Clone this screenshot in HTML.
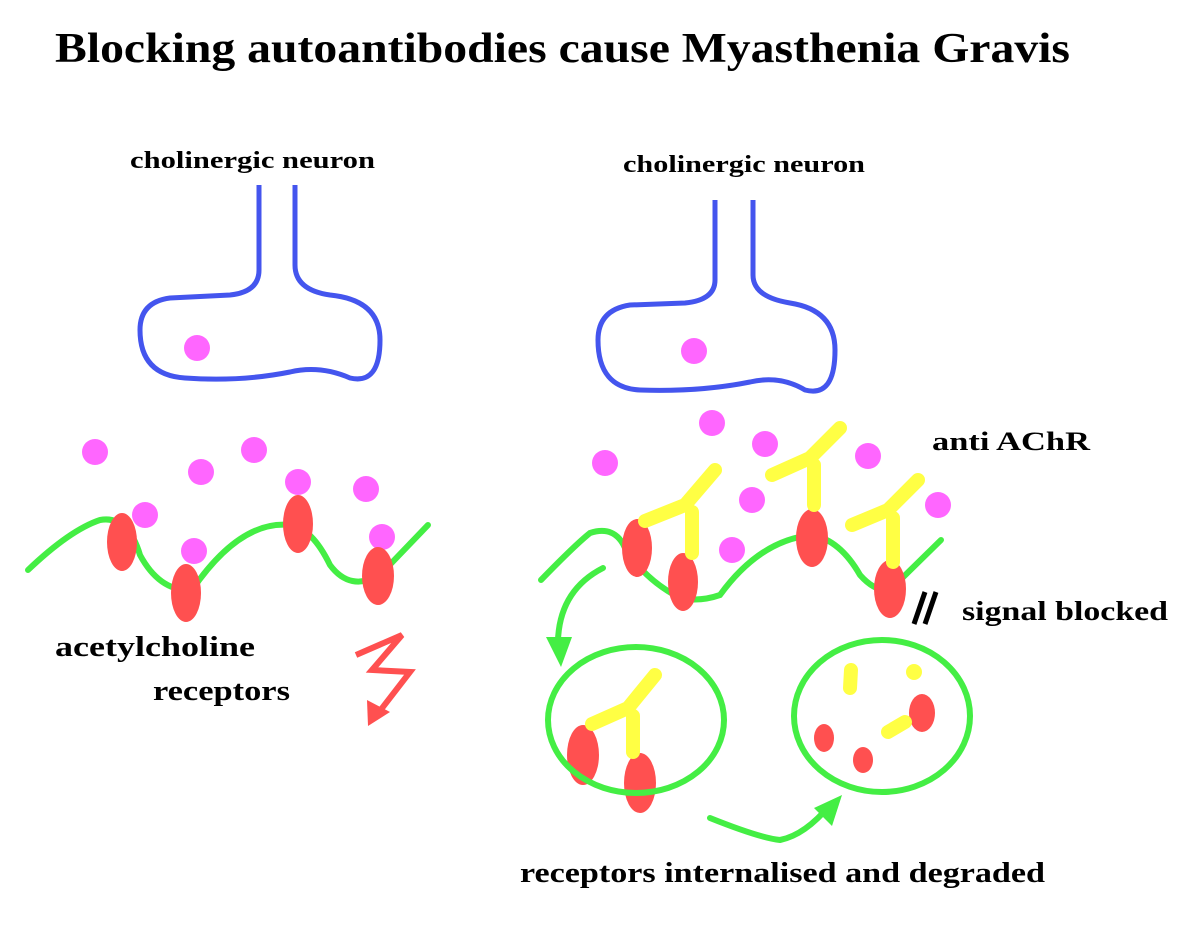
<!DOCTYPE html>
<html><head><meta charset="utf-8"><style>
html,body{margin:0;padding:0;background:#fff}
svg{display:block}
text{font-family:"Liberation Serif",serif;font-weight:bold;fill:#000}
</style></head><body>
<svg width="1194" height="936" viewBox="0 0 1194 936" xmlns="http://www.w3.org/2000/svg">
<text x="55" y="62" font-size="42" textLength="1015" lengthAdjust="spacingAndGlyphs">Blocking autoantibodies cause Myasthenia Gravis</text>
<text x="130" y="168" font-size="24" textLength="245" lengthAdjust="spacingAndGlyphs">cholinergic neuron</text>
<text x="623" y="172" font-size="24" textLength="242" lengthAdjust="spacingAndGlyphs">cholinergic neuron</text>
<text x="932" y="450" font-size="26" textLength="158" lengthAdjust="spacingAndGlyphs">anti AChR</text>
<text x="962" y="620" font-size="27" textLength="206" lengthAdjust="spacingAndGlyphs">signal blocked</text>
<text x="55" y="656" font-size="28" textLength="200" lengthAdjust="spacingAndGlyphs">acetylcholine</text>
<text x="153" y="700" font-size="28" textLength="137" lengthAdjust="spacingAndGlyphs">receptors</text>
<text x="520" y="882" font-size="28" textLength="525" lengthAdjust="spacingAndGlyphs">receptors internalised and degraded</text>

<g fill="none" stroke="#4455ee" stroke-width="5" stroke-linejoin="round">
<path d="M259,185 L259,270 Q259,292 230,295 L170,298 Q140,302 140,330 Q140,375 185,378 Q240,382 290,372 Q320,365 350,378 Q380,385 380,340 Q380,300 330,295 Q295,290 295,265 L295,185"/>
<path d="M715,200 L715,280 Q715,300 685,303 L630,305 Q598,310 598,340 Q598,388 640,390 Q700,392 750,382 Q780,375 805,390 Q835,398 835,350 Q835,310 790,303 Q753,297 753,275 L753,200"/>
</g>
<g fill="#ff66ff">
<circle cx="197" cy="348" r="13"/><circle cx="694" cy="351" r="13"/>
<circle cx="95" cy="452" r="13"/><circle cx="201" cy="472" r="13"/><circle cx="254" cy="450" r="13"/><circle cx="298" cy="482" r="13"/><circle cx="366" cy="489" r="13"/><circle cx="145" cy="515" r="13"/><circle cx="194" cy="551" r="13"/><circle cx="382" cy="537" r="13"/>
<circle cx="605" cy="463" r="13"/><circle cx="712" cy="423" r="13"/><circle cx="765" cy="444" r="13"/><circle cx="752" cy="500" r="13"/><circle cx="732" cy="550" r="13"/><circle cx="868" cy="456" r="13"/><circle cx="938" cy="505" r="13"/>
</g>
<g fill="none" stroke="#44ee44" stroke-width="6" stroke-linecap="round">
<path d="M28,570 Q70,530 100,520 Q128,515 140,555 Q160,592 192,590 Q240,520 290,525 Q312,528 330,565 Q350,592 380,575 L428,525"/>
<path d="M541,580 Q575,545 590,533 Q615,525 625,548 Q645,580 680,598 Q700,602 720,595 Q760,540 812,535 Q840,540 860,575 Q875,592 890,590 L941,540"/>
<path d="M603,568 Q560,590 558,640"/>
<path d="M710,818 Q760,838 780,840 Q805,835 830,805"/>
</g>
<polygon points="546,637 572,637 561,667" fill="#44ee44"/>
<polygon points="842,795 814,808 832,826" fill="#44ee44"/>
<g fill="#ff5050">
<ellipse cx="122" cy="542" rx="15" ry="29"/><ellipse cx="186" cy="593" rx="15" ry="29"/><ellipse cx="298" cy="524" rx="15" ry="29"/><ellipse cx="378" cy="576" rx="16" ry="29"/>
<ellipse cx="637" cy="548" rx="15" ry="29"/><ellipse cx="683" cy="582" rx="15" ry="29"/><ellipse cx="812" cy="538" rx="16" ry="29"/><ellipse cx="890" cy="589" rx="16" ry="29"/>
<ellipse cx="583" cy="755" rx="16" ry="30"/><ellipse cx="640" cy="783" rx="16" ry="30"/>
<ellipse cx="922" cy="713" rx="13" ry="19"/><ellipse cx="824" cy="738" rx="10" ry="14"/><ellipse cx="863" cy="760" rx="10" ry="13"/>
</g>
<g fill="none" stroke="#ffff44" stroke-width="14" stroke-linecap="round">
<path d="M692,553 L692,512 M685,505 L715,470 M685,505 L645,521"/>
<path d="M814,505 L814,465 M810,458 L840,428 M810,458 L772,475"/>
<path d="M893,562 L893,518 M888,510 L918,480 M888,510 L852,525"/>
<path d="M633,752 L633,716 M628,708 L655,675 M628,708 L592,724"/>
<path d="M851,670 L850,688"/>
<path d="M888,732 L905,722"/>
</g>
<circle cx="914" cy="672" r="8" fill="#ffff44"/>
<ellipse cx="636" cy="720" rx="88" ry="73" fill="none" stroke="#44ee44" stroke-width="6"/>
<ellipse cx="882" cy="716" rx="88" ry="76" fill="none" stroke="#44ee44" stroke-width="6"/>
<g fill="none" stroke="#ff5050" stroke-width="6" stroke-linejoin="miter">
<path d="M356,655 L402,635 L372,670 L410,672 L376,716"/>
</g>
<polygon points="368,726 367,700 390,712" fill="#ff5050"/>
<g stroke="#000" stroke-width="5">
<line x1="925" y1="592" x2="914" y2="624"/><line x1="936" y1="592" x2="925" y2="624"/>
</g>
</svg>
</body></html>
